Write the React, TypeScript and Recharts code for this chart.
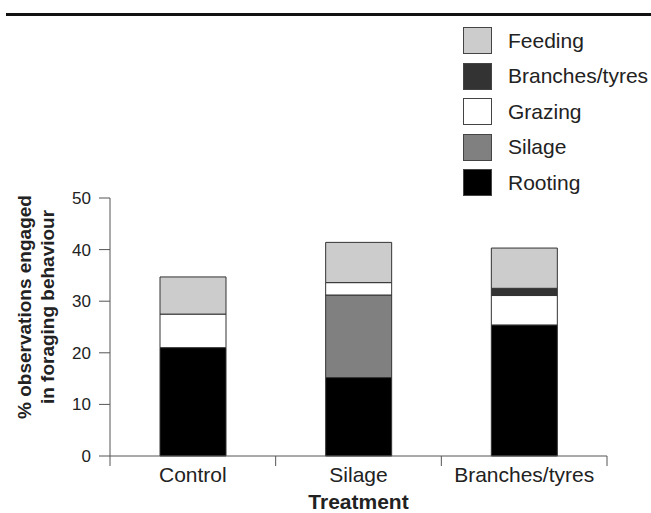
import React from "react";
import { BarChart, Bar, XAxis, YAxis } from "recharts";

const categories = ["Control", "Silage", "Branches/tyres"];
const rooting = [21, 15.2, 25.4];
const silage = [0, 16, 0];
const grazing = [6.5, 2.4, 5.7];
const branches = [0, 0, 1.4];
const feeding = [7.2, 7.8, 7.8];
const yTicks = [0, 10, 20, 30, 40, 50];

// bottom to top stacking order
const series = [
  { key: "rooting", name: "Rooting", color: "#000000" },
  { key: "silage", name: "Silage", color: "#808080" },
  { key: "grazing", name: "Grazing", color: "#ffffff" },
  { key: "branches", name: "Branches/tyres", color: "#333333" },
  { key: "feeding", name: "Feeding", color: "#cccccc" },
];

const data = categories.map((name, i) => ({
  name,
  rooting: rooting[i],
  silage: silage[i],
  grazing: grazing[i],
  branches: branches[i],
  feeding: feeding[i],
}));

const font = '"Liberation Sans", Arial, sans-serif';
const TICK_GAP = 11;

const YLabel = () => (
  <text
    transform="translate(0, 307) rotate(-90)"
    textAnchor="middle"
    fontFamily={font}
    fontWeight="bold"
    fontSize={19}
    fill="#222"
  >
    <tspan x={0} y={31}>% observations engaged</tspan>
    <tspan x={0} y={54}>in foraging behaviour</tspan>
  </text>
);

// category label plus tick marks at the band edges
const CatTick = (props: any) => {
  const { x, y, payload, index, visibleTicksCount } = props;
  const half = payload.offset || 0;
  const top = y - TICK_GAP;
  return (
    <g>
      <line x1={x - half} x2={x - half} y1={top} y2={top + 10} stroke="#555" />
      {index === visibleTicksCount - 1 && (
        <line x1={x + half} x2={x + half} y1={top} y2={top + 10} stroke="#555" />
      )}
      <text
        x={x}
        y={y}
        dy="0.71em"
        textAnchor="middle"
        fontSize={21}
        fill="#222"
        fontFamily={font}
      >
        {payload.value}
      </text>
    </g>
  );
};

export default function App() {
  return (
    <div
      style={{
        position: "absolute",
        left: 0,
        top: 0,
        width: 651,
        height: 513,
        background: "#fff",
        fontFamily: font,
      }}
    >
      <div
        style={{
          position: "absolute",
          left: 6,
          right: 0,
          top: 13,
          height: 3,
          background: "#111",
        }}
      />
      <div style={{ position: "absolute", left: 463, top: 23 }}>
        {[...series].reverse().map((s) => (
          <div
            key={s.key}
            style={{ display: "flex", alignItems: "center", height: 35.5 }}
          >
            <div
              style={{
                width: 27,
                height: 25,
                background: s.color,
                border: "1.5px solid #444",
              }}
            />
            <span
              style={{
                marginLeft: 16,
                fontSize: 21,
                color: "#222",
                whiteSpace: "nowrap",
              }}
            >
              {s.name}
            </span>
          </div>
        ))}
      </div>
      <BarChart
        width={651}
        height={513}
        data={data}
        margin={{ top: 198, right: 44, bottom: 0, left: 0 }}
        barCategoryGap={0}
      >
        <XAxis
          dataKey="name"
          stroke="#555"
          tickLine={false}
          tickSize={0}
          tickMargin={TICK_GAP}
          height={57}
          tick={<CatTick />}
          label={{
            value: "Treatment",
            position: "insideBottom",
            offset: 4,
            fontSize: 21,
            fontWeight: "bold",
            fill: "#222",
            fontFamily: font,
          }}
        />
        <YAxis
          width={110}
          domain={[0, 50]}
          ticks={yTicks}
          tickSize={11}
          tickMargin={8}
          stroke="#555"
          tick={{ fontSize: 17, fill: "#222", fontFamily: font }}
          label={<YLabel />}
        />
        {series.map((s) => (
          <Bar
            key={s.key}
            dataKey={s.key}
            stackId="a"
            fill={s.color}
            stroke="#333"
            strokeWidth={1}
            barSize={66}
            isAnimationActive={false}
          />
        ))}
      </BarChart>
    </div>
  );
}
